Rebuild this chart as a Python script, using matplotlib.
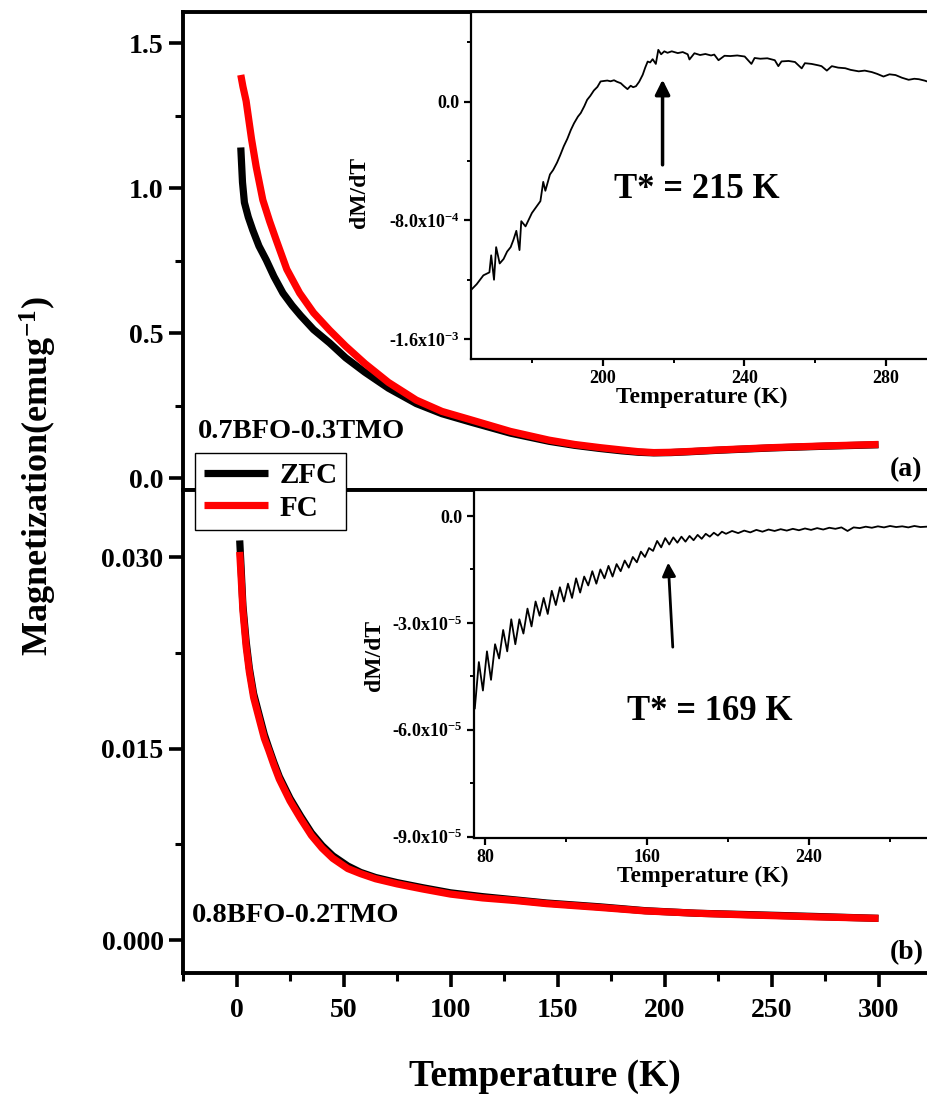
import numpy as np
import matplotlib
matplotlib.use('Agg')
import matplotlib.pyplot as plt
from matplotlib.ticker import MultipleLocator, FixedLocator, FixedFormatter

plt.rcParams['font.family'] = 'Liberation Serif'
plt.rcParams['font.weight'] = 'bold'
plt.rcParams['axes.labelweight'] = 'bold'
plt.rcParams['mathtext.fontset'] = 'custom'
plt.rcParams['mathtext.rm'] = 'Liberation Serif:bold'
plt.rcParams['mathtext.it'] = 'Liberation Serif:bold'
plt.rcParams['mathtext.bf'] = 'Liberation Serif:bold'

# (a) 0.7BFO-0.3TMO, M (emu/g) vs T (K)
T_zfc_a = [2, 2.8, 3.7, 5.5, 7.6, 10.5, 13.9, 17.5, 21.7, 26, 30, 36, 43.5, 51, 60, 71, 84, 96, 110, 128, 146,
           158, 170, 180, 188, 195, 203, 212, 225, 250, 275, 300]
M_zfc_a = [1.14, 1.02, 0.95, 0.9, 0.855, 0.8, 0.752, 0.695, 0.638, 0.595, 0.56, 0.512, 0.466, 0.415, 0.365,
           0.31, 0.257, 0.222, 0.192, 0.155, 0.127, 0.113, 0.102, 0.094, 0.089, 0.087, 0.088, 0.091, 0.096,
           0.104, 0.11, 0.115]
T_fc_a = [2, 3, 4.5, 7, 9.2, 12.3, 15.5, 18.6, 23.5, 29.5, 36, 43.5, 51, 60, 71, 84, 96, 110, 128, 146,
          158, 170, 180, 188, 195, 203, 212, 225, 250, 275, 300]
M_fc_a = [1.39, 1.35, 1.3, 1.17, 1.073, 0.959, 0.885, 0.82, 0.72, 0.638, 0.57, 0.51, 0.455, 0.395, 0.33,
          0.269, 0.23, 0.2, 0.161, 0.131, 0.116, 0.105, 0.097, 0.091, 0.088, 0.089, 0.092, 0.097, 0.105,
          0.111, 0.116]

# (b) 0.8BFO-0.2TMO
T_b = [1.5, 2.2, 3, 4.5, 6, 8, 10.8, 13, 15, 17.5, 20, 25, 30, 35, 40, 45, 52, 58, 65, 75, 87, 100, 115,
       130, 145, 170, 191, 215, 238, 270, 300]
M_zfc_b = [0.0313, 0.029, 0.0262, 0.0234, 0.0213, 0.0193, 0.0175, 0.0161, 0.0151, 0.0139, 0.0128, 0.0111,
           0.0097, 0.0084, 0.0074, 0.0066, 0.0058, 0.0053, 0.0049, 0.0045, 0.0041, 0.0037, 0.0034, 0.00315,
           0.0029, 0.0026, 0.0023, 0.0021, 0.002, 0.00185, 0.0017]
M_fc_b = [0.0304, 0.0283, 0.0258, 0.023, 0.021, 0.019, 0.0172, 0.0158, 0.0149, 0.0137, 0.0126, 0.0109,
          0.0095, 0.0082, 0.0072, 0.0064, 0.0056, 0.0052, 0.0048, 0.0044, 0.004, 0.0036, 0.0033, 0.0031,
          0.00285, 0.00255, 0.00228, 0.0021, 0.00197, 0.00182, 0.0017]

# inset (a): dM/dT in units of 1e-4
T_ins_a = [163.0, 164.4, 166.3, 168.0, 168.5, 169.3, 169.9, 170.9, 172.0, 173.0, 174.0, 174.8, 175.6, 176.5,
           177.0, 178.2, 179.2, 180.0, 181.2, 182.4, 183.2, 183.8, 185.1, 186.0, 187.1, 188.0, 189.0, 190.0,
           191.0, 191.9, 193.0, 193.8, 194.8, 195.6, 196.5, 197.5, 198.5, 199.4, 200.3, 201.3, 202.2, 203.2,
           204.0, 205.1, 206.0, 207.0, 207.9, 208.6, 209.4, 210.3, 211.3, 212.0, 212.7, 213.4, 214.1, 215.0,
           215.7, 216.5, 217.4, 218.3, 219.5, 221.2, 222.6, 224.0, 224.5, 225.9, 227.5, 229.0, 230.6, 231.5,
           232.7, 234.4, 236.0, 238.0, 240.1, 242.0, 242.9, 244.5, 246.5, 248.6, 249.6, 250.5, 252.5, 254.3,
           256.2, 257.1, 259.0, 261.0, 261.8, 263.3, 264.7, 266.5, 268.5, 270.0, 272.3, 274.0, 276.0, 277.5,
           279.3, 281.0, 282.7, 284.5, 286.4, 288.0, 289.3, 291.0, 291.6, 292.5]
dMdT_a = [-12.64, -12.3, -11.7, -11.5, -10.35, -12.0, -9.8, -10.9, -10.6, -10.1, -9.8, -9.3, -8.7, -10.0,
          -8.05, -8.4, -7.9, -7.5, -7.1, -6.7, -5.4, -6.0, -4.9, -4.6, -4.1, -3.6, -3.0, -2.5,
          -1.9, -1.45, -1.0, -0.76, -0.3, 0.13, 0.4, 0.76, 1.0, 1.37, 1.4, 1.43, 1.38, 1.45,
          1.35, 1.25, 1.05, 0.85, 1.08, 0.98, 1.05, 1.35, 1.82, 2.3, 2.71, 2.65, 2.87, 2.55,
          3.5, 3.2, 3.4, 3.3, 3.4, 3.28, 3.35, 3.2, 2.85, 3.27, 3.15, 3.22, 3.12, 3.18,
          2.8, 3.1, 3.08, 3.12, 3.05, 2.55, 2.95, 2.9, 2.93, 2.8, 2.4, 2.72, 2.75, 2.68,
          2.25, 2.6, 2.55, 2.45, 2.4, 2.1, 2.4, 2.3, 2.26, 2.15, 2.05, 2.1, 2.0, 1.88,
          1.7, 1.85, 1.8, 1.62, 1.48, 1.55, 1.52, 1.42, 1.37, 1.52]

# inset (b): dM/dT in units of 1e-5
T_ins_b = np.concatenate([np.arange(75, 200, 2), np.arange(202, 299, 3)])
dMdT_b = [-5.4, -4.1, -4.9, -3.8, -4.6, -3.6, -4.0, -3.2, -3.8, -2.9,
          -3.6, -2.9, -3.3, -2.6, -3.1, -2.4, -2.8, -2.3, -2.75, -2.1,
          -2.5, -2.0, -2.4, -1.9, -2.3, -1.75, -2.15, -1.7, -1.95, -1.55,
          -1.9, -1.5, -1.75, -1.4, -1.7, -1.35, -1.55, -1.25, -1.45, -1.15,
          -1.3, -1.0, -1.15, -0.9, -0.98, -0.7, -0.88, -0.62, -0.8, -0.6,
          -0.75, -0.58, -0.72, -0.56, -0.68, -0.53, -0.64, -0.5, -0.58, -0.47,
          -0.55, -0.44, -0.5,
          -0.42, -0.48, -0.41, -0.46, -0.39, -0.44, -0.38, -0.42, -0.37, -0.41,
          -0.36, -0.40, -0.35, -0.39, -0.34, -0.38, -0.33, -0.36, -0.32, -0.42,
          -0.32, -0.34, -0.30, -0.33, -0.29, -0.32, -0.28, -0.31, -0.29, -0.32,
          -0.28, -0.31, -0.30]

W, H = 928, 1097


def box(l, t, r, b):
    return [l / W, 1 - b / H, (r - l) / W, (b - t) / H]


fig = plt.figure(figsize=(W / 100, H / 100), dpi=100)
ax_a = fig.add_axes(box(183, 12, 932, 490))
ax_b = fig.add_axes(box(183, 490, 932, 973))

l_zfc, = ax_a.plot(T_zfc_a, M_zfc_a, color='k', lw=5.2, solid_capstyle='butt', solid_joinstyle='round')
l_fc, = ax_a.plot(T_fc_a, M_fc_a, color='#ff0000', lw=5.2, solid_capstyle='butt', solid_joinstyle='round')
ax_b.plot(T_b, M_zfc_b, color='k', lw=5.2, solid_capstyle='butt', solid_joinstyle='round')
ax_b.plot(T_b, M_fc_b, color='#ff0000', lw=5.2, solid_capstyle='butt', solid_joinstyle='round')

for ax in (ax_a, ax_b):
    ax.set_xlim(-25, 325)
    for s in ax.spines.values():
        s.set_linewidth(2.8)
    ax.tick_params(which='major', direction='out', length=10, width=2.6, labelsize=20, pad=4)
    ax.tick_params(which='minor', direction='out', length=6, width=2.2)
    ax.tick_params(axis='x', top=False, which='both')
    ax.tick_params(axis='y', right=False, which='both')

ax_a.set_ylim(-0.041, 1.607)
ax_a.yaxis.set_major_locator(FixedLocator([0.0, 0.5, 1.0, 1.5]))
ax_a.yaxis.set_major_formatter(FixedFormatter(['0.0', '0.5', '1.0', '1.5']))
ax_a.yaxis.set_minor_locator(MultipleLocator(0.25))
ax_a.tick_params(axis='x', which='both', bottom=False, labelbottom=False)

ax_b.set_ylim(-0.00258, 0.03525)
ax_b.yaxis.set_major_locator(FixedLocator([0.0, 0.015, 0.030]))
ax_b.yaxis.set_major_formatter(FixedFormatter(['0.000', '0.015', '0.030']))
ax_b.yaxis.set_minor_locator(MultipleLocator(0.0075))
ax_b.xaxis.set_major_locator(FixedLocator([0, 50, 100, 150, 200, 250, 300]))
ax_b.xaxis.set_major_formatter(FixedFormatter(['0', '50', '100', '150', '200', '250', '300']))
ax_b.xaxis.set_minor_locator(FixedLocator([-25, 25, 75, 125, 175, 225, 275]))
ax_b.tick_params(axis='x', which='major', pad=8)

# insets
ins_a = fig.add_axes(box(471, 12, 932, 359))
ins_b = fig.add_axes(box(474, 490, 932, 838))
ins_a.plot(T_ins_a, dMdT_a, color='k', lw=1.3)
ins_b.plot(T_ins_b, dMdT_b, color='k', lw=1.3)

ins_a.set_xlim(162.8, 293)
ins_a.set_ylim(-17.34, 6.05)
ins_a.xaxis.set_major_locator(FixedLocator([200, 240, 280]))
ins_a.xaxis.set_minor_locator(FixedLocator([180, 220, 260]))
ins_a.yaxis.set_major_locator(FixedLocator([-16, -8, 0]))
ins_a.yaxis.set_major_formatter(FixedFormatter(['-1.6x10$^{-3}$', '-8.0x10$^{-4}$', '0.0']))
ins_a.yaxis.set_minor_locator(FixedLocator([-12, -4, 4]))

ins_b.set_xlim(74.6, 300.7)
ins_b.set_ylim(-9.04, 0.73)
ins_b.xaxis.set_major_locator(FixedLocator([80, 160, 240]))
ins_b.xaxis.set_minor_locator(FixedLocator([120, 200, 280]))
ins_b.yaxis.set_major_locator(FixedLocator([-9, -6, -3, 0]))
ins_b.yaxis.set_major_formatter(FixedFormatter(['-9.0x10$^{-5}$', '-6.0x10$^{-5}$', '-3.0x10$^{-5}$', '0.0']))
ins_b.yaxis.set_minor_locator(FixedLocator([-7.5, -4.5, -1.5]))

for ins in (ins_a, ins_b):
    ins.set_zorder(3)
    for s in ins.spines.values():
        s.set_linewidth(1.6)
    ins.tick_params(which='major', direction='out', length=5, width=1.6, labelsize=13, pad=3)
    ins.tick_params(which='minor', direction='out', length=3, width=1.4)
    ins.tick_params(axis='x', top=False, which='both')
    ins.tick_params(axis='y', right=False, which='both')
    ins.set_xlabel('Temperature (K)', fontsize=17, fontweight='bold', labelpad=0)

ins_a.annotate('', xy=(216.9, 1.68), xytext=(216.9, -4.44),
               arrowprops=dict(arrowstyle='-|>', color='k', lw=2.5, mutation_scale=22))
ins_b.annotate('', xy=(170.4, -1.23), xytext=(172.8, -3.76),
               arrowprops=dict(arrowstyle='-|>', color='k', lw=2.0, mutation_scale=20))

fig.text(360 / W, 1 - 192 / H, 'dM/dT', rotation=90, fontsize=17, ha='center', va='center')
fig.text(375 / W, 1 - 655 / H, 'dM/dT', rotation=90, fontsize=17, ha='center', va='center', zorder=5)
fig.text(697 / W, 1 - 190 / H, 'T* = 215 K', fontsize=25, ha='center', va='center', zorder=5)
fig.text(710 / W, 1 - 712 / H, 'T* = 169 K', fontsize=25, ha='center', va='center', zorder=5)

fig.text(198 / W, 1 - 432 / H, '0.7BFO-0.3TMO', fontsize=20.5, ha='left', va='center')
fig.text(192 / W, 1 - 915 / H, '0.8BFO-0.2TMO', fontsize=20.5, ha='left', va='center')
fig.text(906 / W, 1 - 470 / H, '(a)', fontsize=20, ha='center', va='center')
fig.text(907 / W, 1 - 953 / H, '(b)', fontsize=20, ha='center', va='center')

fig.text(38 / W, 1 - 476 / H, 'Magnetization(emug$^{-1}$)', rotation=90, fontsize=26,
         ha='center', va='center')
fig.text(545 / W, 1 - 1077 / H, 'Temperature (K)', fontsize=27, ha='center', va='center')

leg = fig.legend([l_zfc, l_fc], ['ZFC', 'FC'], loc='upper left', bbox_to_anchor=(195 / W, 1 - 453 / H),
                 fontsize=21, handlelength=2.2, borderpad=0.3, labelspacing=0.2, handletextpad=0.4,
                 borderaxespad=0, fancybox=False, edgecolor='k', framealpha=1)
leg.get_frame().set_linewidth(1.0)

fig.savefig('out.png', dpi=100)
